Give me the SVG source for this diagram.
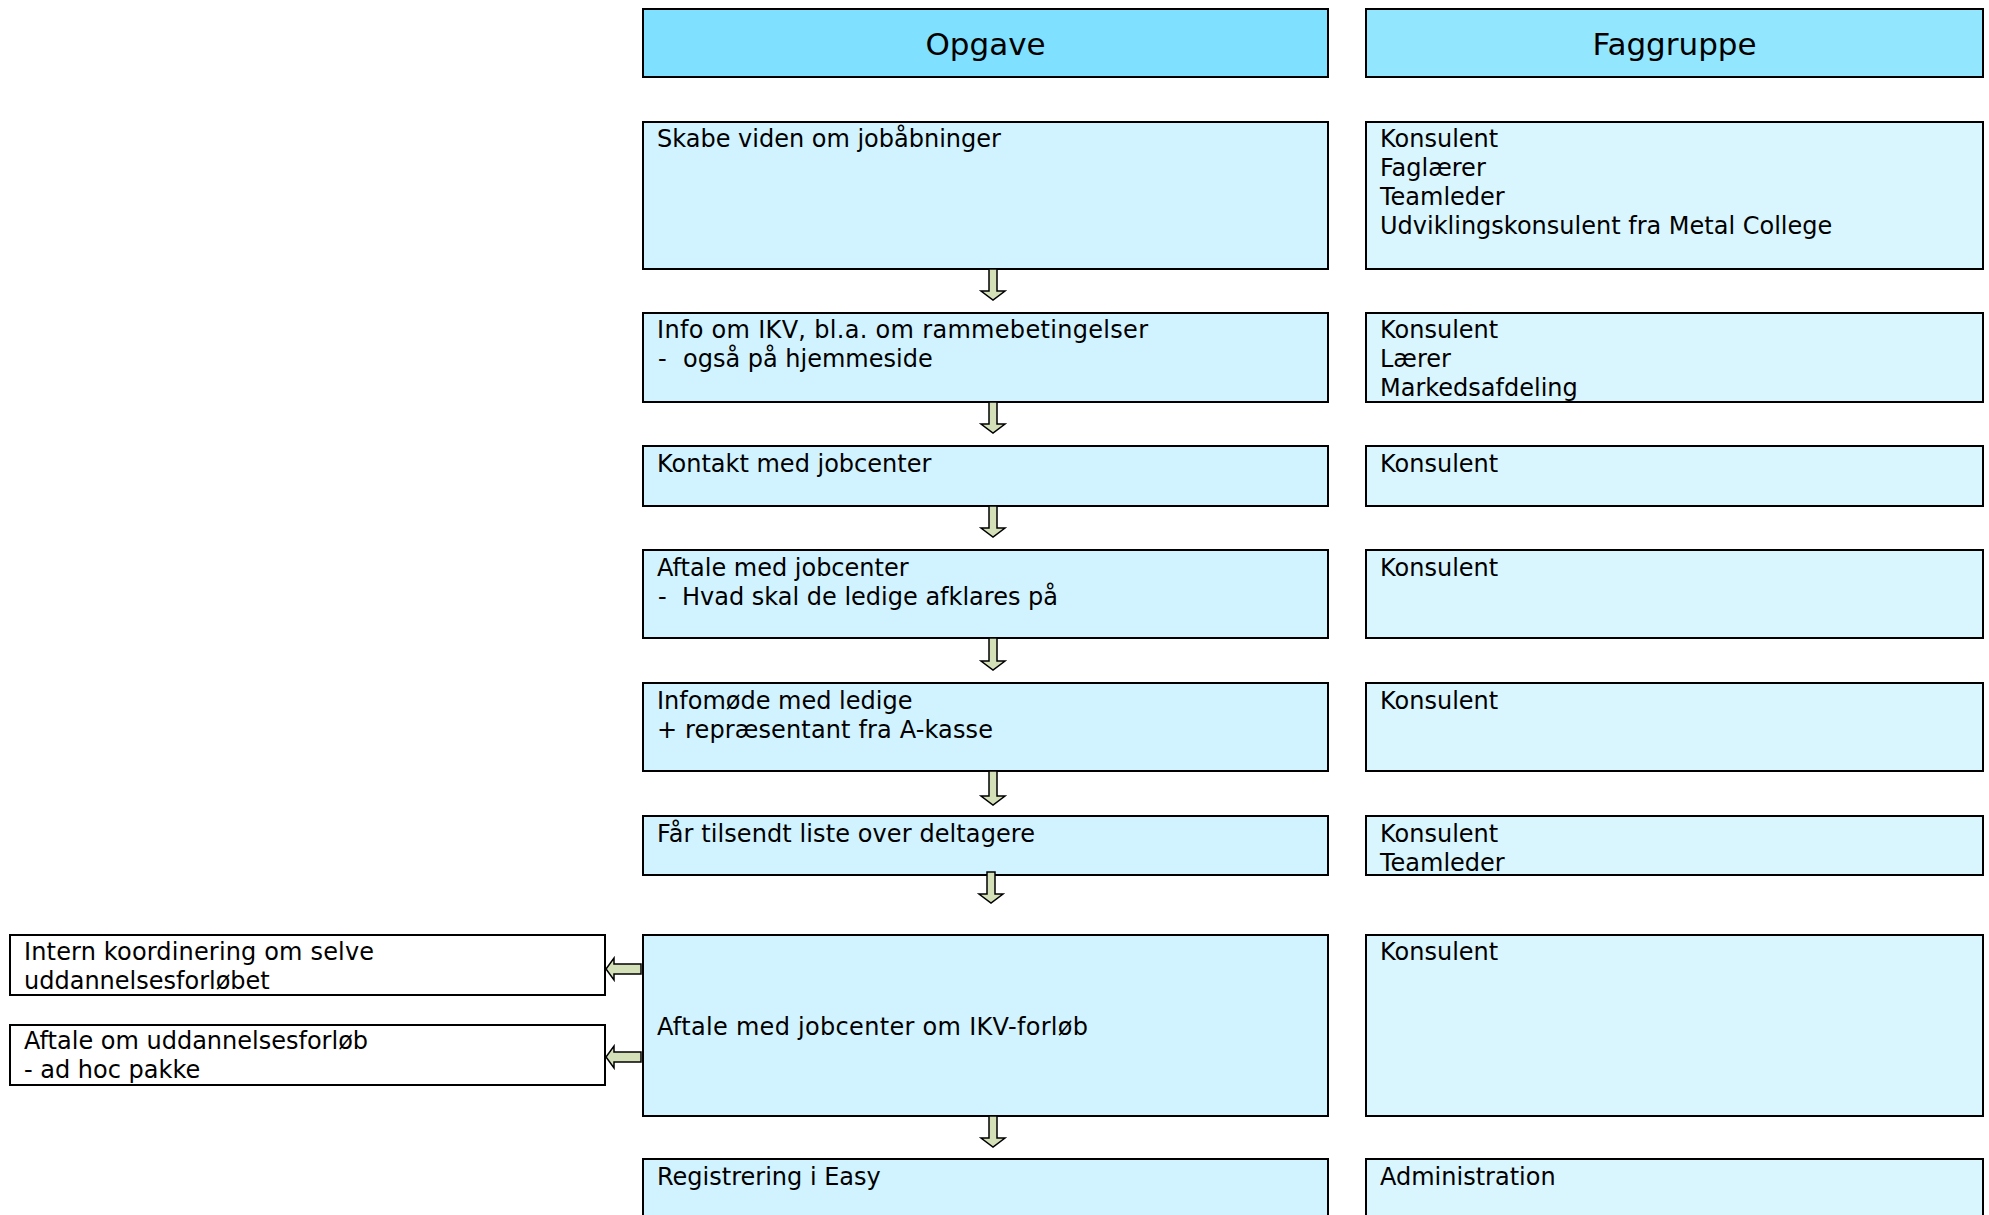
<svg xmlns="http://www.w3.org/2000/svg" width="1989" height="1215" viewBox="0 0 1989 1215">
<style>
.box{stroke:#000;stroke-width:2}
.hd1{fill:#7fe0ff}
.hd2{fill:#92e7ff}
.op{fill:#d1f3ff}
.fg{fill:#d9f6ff}
.side{fill:#fff}
text{font-family:"DejaVu Sans",Verdana,sans-serif;font-size:24px;fill:#000}
.ht{font-size:31px;text-anchor:middle}
.arr{fill:#d4e0b8;stroke:#000;stroke-width:1.5;stroke-linejoin:miter}
</style>
<rect width="1989" height="1215" fill="#fff"/>
<g id="hdr-opgave"><rect class="box hd1" x="643" y="9" width="685" height="68"/><text class="ht" x="985.5" y="55">Opgave</text></g>
<g id="hdr-faggruppe"><rect class="box hd2" x="1366" y="9" width="617" height="68"/><text class="ht" x="1674.5" y="55">Faggruppe</text></g>

<g id="op1"><rect class="box op" x="643" y="122" width="685" height="147"/><text x="657" y="147">Skabe viden om jobåbninger</text></g>
<g id="fg1"><rect class="box fg" x="1366" y="122" width="617" height="147"/><text x="1380" y="147">Konsulent</text><text x="1380" y="176">Faglærer</text><text x="1380" y="205">Teamleder</text><text x="1380" y="234">Udviklingskonsulent fra Metal College</text></g>

<g id="op2"><rect class="box op" x="643" y="313" width="685" height="89"/><text x="657" y="338" textLength="491" lengthAdjust="spacing">Info om IKV, bl.a. om rammebetingelser</text><text x="658" y="367">-<tspan x="683">også på hjemmeside</tspan></text></g>
<g id="fg2"><rect class="box fg" x="1366" y="313" width="617" height="89"/><text x="1380" y="338">Konsulent</text><text x="1380" y="367">Lærer</text><text x="1380" y="396">Markedsafdeling</text></g>

<g id="op3"><rect class="box op" x="643" y="446" width="685" height="60"/><text x="657" y="472">Kontakt med jobcenter</text></g>
<g id="fg3"><rect class="box fg" x="1366" y="446" width="617" height="60"/><text x="1380" y="472">Konsulent</text></g>

<g id="op4"><rect class="box op" x="643" y="550" width="685" height="88"/><text x="657" y="576">Aftale med jobcenter</text><text x="658" y="605">-<tspan x="682">Hvad skal de ledige afklares på</tspan></text></g>
<g id="fg4"><rect class="box fg" x="1366" y="550" width="617" height="88"/><text x="1380" y="576">Konsulent</text></g>

<g id="op5"><rect class="box op" x="643" y="683" width="685" height="88"/><text x="657" y="709">Infomøde med ledige</text><text x="657" y="738" textLength="336" lengthAdjust="spacing">+ repræsentant fra A-kasse</text></g>
<g id="fg5"><rect class="box fg" x="1366" y="683" width="617" height="88"/><text x="1380" y="709">Konsulent</text></g>

<g id="op6"><rect class="box op" x="643" y="816" width="685" height="59"/><text x="657" y="842" textLength="378" lengthAdjust="spacing">Får tilsendt liste over deltagere</text></g>
<g id="fg6"><rect class="box fg" x="1366" y="816" width="617" height="59"/><text x="1380" y="842">Konsulent</text><text x="1380" y="871">Teamleder</text></g>

<g id="op7"><rect class="box op" x="643" y="935" width="685" height="181"/><text x="657" y="1035" textLength="431" lengthAdjust="spacing">Aftale med jobcenter om IKV-forløb</text></g>
<g id="fg7"><rect class="box fg" x="1366" y="935" width="617" height="181"/><text x="1380" y="960">Konsulent</text></g>

<g id="op8"><rect class="box op" x="643" y="1159" width="685" height="80"/><text x="657" y="1185">Registrering i Easy</text></g>
<g id="fg8"><rect class="box fg" x="1366" y="1159" width="617" height="80"/><text x="1380" y="1185">Administration</text></g>

<g id="sideA"><rect class="box side" x="10" y="935" width="595" height="60"/><text x="24" y="960" textLength="350" lengthAdjust="spacing">Intern koordinering om selve</text><text x="24" y="989">uddannelsesforløbet</text></g>
<g id="sideB"><rect class="box side" x="10" y="1025" width="595" height="60"/><text x="24" y="1049">Aftale om uddannelsesforløb</text><text x="24" y="1078">- ad hoc pakke</text></g>

<g id="connectors">
<path class="arr" d="M989,269 H997 V291 H1005 L993,300 L981,291 H989 Z"/>
<path class="arr" d="M989,402 H997 V424 H1005 L993,433 L981,424 H989 Z"/>
<path class="arr" d="M989,506 H997 V528 H1005 L993,537 L981,528 H989 Z"/>
<path class="arr" d="M989,638 H997 V661 H1005 L993,670 L981,661 H989 Z"/>
<path class="arr" d="M989,771 H997 V796 H1005 L993,805 L981,796 H989 Z"/>
<path class="arr" d="M987,872 H995 V894 H1003 L991,903 L979,894 H987 Z"/>
<path class="arr" d="M989,1116 H997 V1138 H1005 L993,1147 L981,1138 H989 Z"/>
<path class="arr" d="M641,964 V974 H614 V980 L606,969 L614,958 V964 Z"/>
<path class="arr" d="M641,1052 V1062 H614 V1068 L606,1057 L614,1046 V1052 Z"/>
</g>
</svg>
